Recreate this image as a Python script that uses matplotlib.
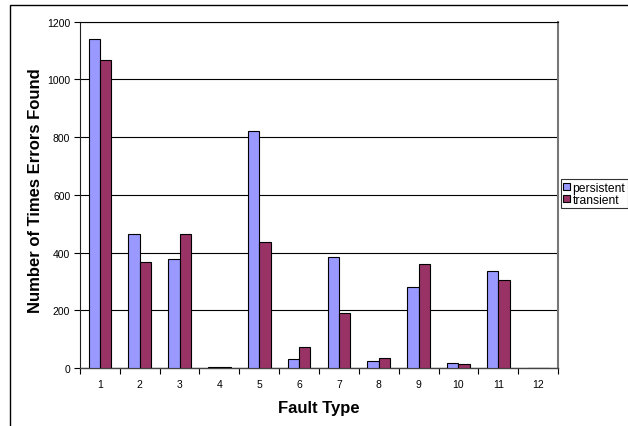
import matplotlib
matplotlib.use("Agg")
import matplotlib.pyplot as plt
import numpy as np
from matplotlib.patches import Rectangle

plt.rcParams['font.family'] = ['Liberation Sans', 'DejaVu Sans']

categories = [str(i) for i in range(1, 13)]
persistent = [1140, 464, 377, 2, 822, 30, 383, 24, 281, 16, 336, 0]
transient = [1069, 367, 464, 2, 436, 72, 189, 34, 359, 13, 304, 0]
yticks = [0, 200, 400, 600, 800, 1000, 1200]

W, H = 628, 427
fig = plt.figure(figsize=(W / 100, H / 100), dpi=100)

# outer chart frame (only left and top visible)
frame = Rectangle((10 / W, -0.05), 1.1, (H - 6) / H + 0.05, transform=fig.transFigure,
                  fill=False, edgecolor='black', linewidth=1.0)
fig.patches.append(frame)

left, right, top, bottom = 80, 558, 22.7, 369
ax = fig.add_axes([left / W, 1 - bottom / H, (right - left) / W, (bottom - top) / H])

x = np.arange(len(categories))
bw = 0.285
ax.bar(x - bw / 2, persistent, bw, color='#9999FF', edgecolor='black', linewidth=0.8,
       label='persistent', zorder=3)
ax.bar(x + bw / 2, transient, bw, color='#993366', edgecolor='black', linewidth=0.8,
       label='transient', zorder=3)

ax.set_xlim(-0.5, len(categories) - 0.5)
ax.set_ylim(0, 1200)
ax.set_yticks(yticks)
ax.set_yticklabels([str(v) for v in yticks], fontsize=7.5)
ax.set_xticks(x)
ax.set_xticklabels(categories, fontsize=7.5)
ax.tick_params(axis='x', length=0, pad=8)
ax.set_xticks(np.arange(-0.5, len(categories)), minor=True)
ax.tick_params(axis='x', which='minor', length=4, direction='out', width=0.8)
ax.tick_params(axis='y', length=4, direction='out', width=0.8, pad=3)

ax.yaxis.grid(True, color='black', linewidth=0.8, zorder=0)
ax.set_axisbelow(True)

ax.spines['left'].set_color('#222222')
ax.spines['bottom'].set_color('#444444')
ax.spines['bottom'].set_linewidth(1.0)
ax.spines['top'].set_color('black')
ax.spines['top'].set_linewidth(0.8)
ax.spines['right'].set_color('#777777')
ax.spines['right'].set_linewidth(1.5)

ax.set_xlabel('Fault Type', fontsize=12, fontweight='bold', labelpad=8)
ax.set_ylabel('Number of Times Errors Found', fontsize=12, fontweight='bold')
ax.yaxis.set_label_coords(-(80 - 43) / (right - left), 0.515)

leg = fig.legend(loc='upper left', bbox_to_anchor=(561 / W, 1 - 180.3 / H),
                 fontsize=8.7, frameon=True, fancybox=False, edgecolor='black',
                 handlelength=0.55, handleheight=0.55, handletextpad=0.2,
                 borderpad=0.2, labelspacing=0.0, borderaxespad=0)
leg.get_frame().set_linewidth(0.8)

fig.savefig('out.png', dpi=100)
